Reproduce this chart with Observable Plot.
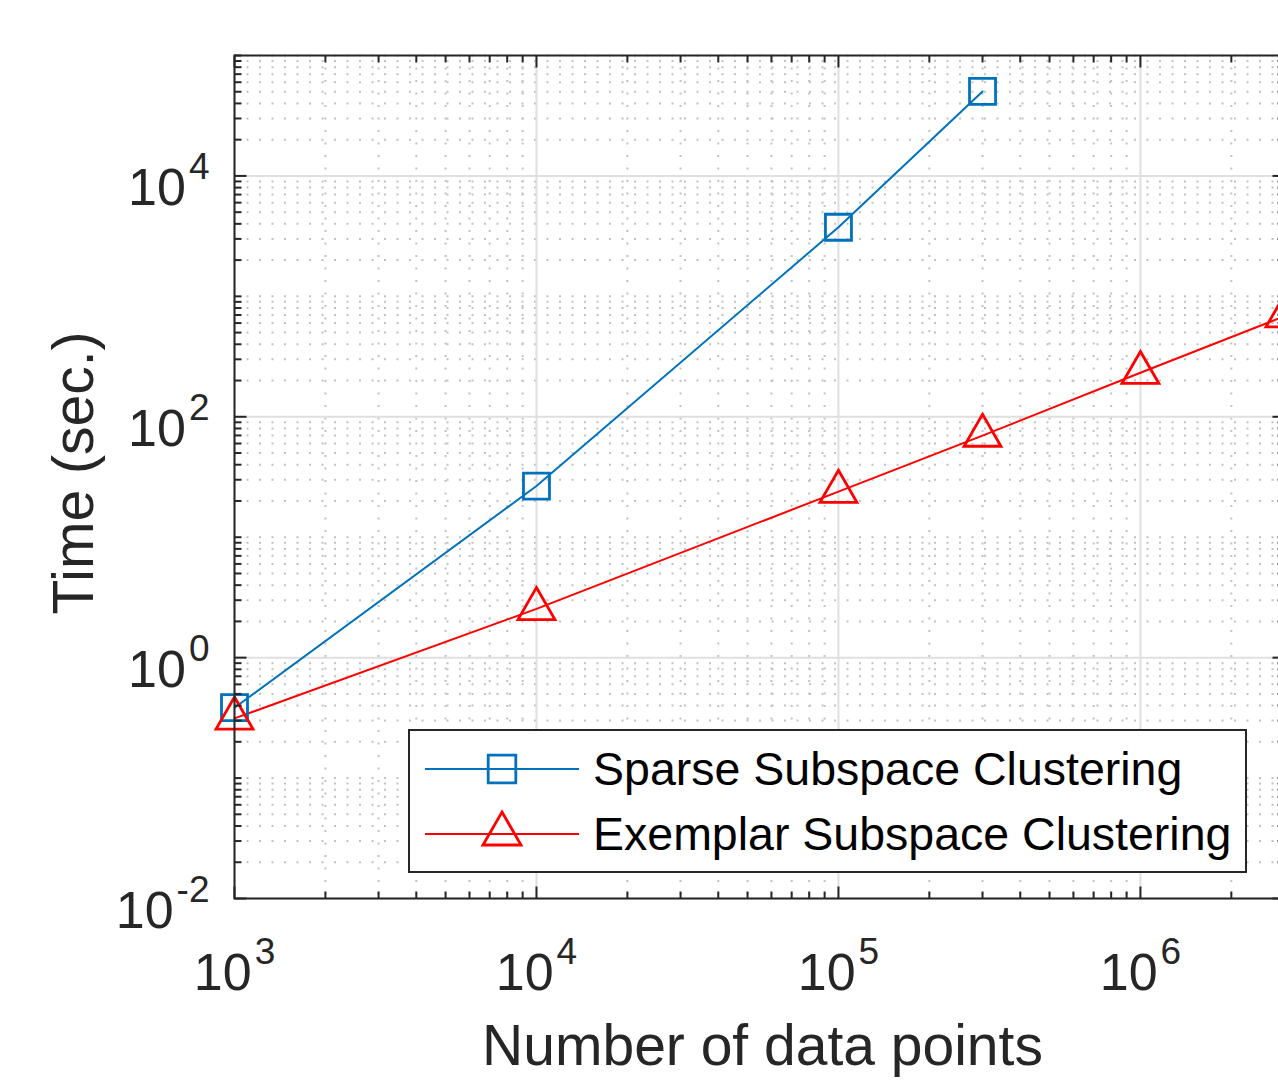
<!DOCTYPE html>
<html>
<head>
<meta charset="utf-8">
<script src="https://cdn.jsdelivr.net/npm/d3@7"></script>
<script src="https://cdn.jsdelivr.net/npm/@observablehq/plot@0.6"></script>
<style>
html, body { margin: 0; padding: 0; background: #fff; overflow: hidden; }
#wrap { position: relative; width: 1278px; height: 1080px; overflow: hidden; background: #fff; }
#wrap > svg { position: absolute; left: 0; top: 0; max-width: none !important; }
</style>
</head>
<body>
<div id="wrap"></div>
<script>
// ---- data ----
const sscN = [1e3, 1e4, 1e5, 3e5];
const sscTime = [0.384, 26.6, 3750, 50300];
const escN = [1e3, 1e4, 1e5, 3e5, 1e6, 3e6];
const escTime = [0.313, 2.54, 23.9, 69.8, 232, 684];
const seriesNames = ["Sparse Subspace Clustering", "Exemplar Subspace Clustering"];
const seriesColors = ["#0072BD", "#FF0000"];
const xDomain = [1e3, 3e6];
const yDomain = [1e-2, 1e5];
const xTickValues = [1e3, 1e4, 1e5, 1e6];
const xTickLabels = ["10^3", "10^4", "10^5", "10^6"];
const yTickValues = [1e-2, 1e0, 1e2, 1e4];
const yTickLabels = ["10^-2", "10^0", "10^2", "10^4"];
const xLabel = "Number of data points";
const yLabel = "Time (sec.)";

// minor tick / grid positions (1..9 x 10^k inside the domain, excluding majors)
function logSteps(lo, hi) {
  const out = [];
  for (let e = Math.floor(Math.log10(lo)); e <= Math.ceil(Math.log10(hi)); e++)
    for (let k = 1; k <= 9; k++) {
      const v = k * Math.pow(10, e);
      if (v >= lo * 0.999 && v <= hi * 1.001) out.push(+v.toPrecision(3));
    }
  return out;
}
const isMajor = (v, majors) => majors.some(m => Math.abs(Math.log10(v) - Math.log10(m)) < 1e-6);
const xMinor = logSteps(...xDomain).filter(v => !isMajor(v, xTickValues));
const yMinor = logSteps(...yDomain).filter(v => !isMajor(v, yTickValues));

const ssc = sscN.map((n, i) => ({n, t: sscTime[i]}));
const esc = escN.map((n, i) => ({n, t: escTime[i]}));

// ---- symbols ----
const squareSym = { draw(ctx, size) { const k = Math.sqrt(size / Math.PI); ctx.rect(-k, -k, 2 * k, 2 * k); } };
const triangleSym = { draw(ctx, size) {
  const h = 2 * Math.sqrt(size / Math.PI), w = h / Math.sqrt(3);
  ctx.moveTo(0, -2 * h / 3); ctx.lineTo(w, h / 3); ctx.lineTo(-w, h / 3); ctx.closePath();
} };
const tick = (dx, dy) => ({ draw(ctx) { ctx.moveTo(0, 0); ctx.lineTo(dx, dy); } });
const AX = "#262626";
const MAJ = 12, MIN = 7;

const tickMarks = [
  Plot.dot(xTickValues, {x: d => d, frameAnchor: "bottom", symbol: tick(0, -MAJ), r: 1, stroke: AX, fill: "none", strokeWidth: 2}),
  Plot.dot(xMinor, {x: d => d, frameAnchor: "bottom", symbol: tick(0, -MIN), r: 1, stroke: AX, fill: "none", strokeWidth: 2}),
  Plot.dot(xTickValues, {x: d => d, frameAnchor: "top", symbol: tick(0, MAJ), r: 1, stroke: AX, fill: "none", strokeWidth: 2}),
  Plot.dot(xMinor, {x: d => d, frameAnchor: "top", symbol: tick(0, MIN), r: 1, stroke: AX, fill: "none", strokeWidth: 2}),
  Plot.dot(yTickValues, {y: d => d, frameAnchor: "left", symbol: tick(MAJ, 0), r: 1, stroke: AX, fill: "none", strokeWidth: 2}),
  Plot.dot(yMinor, {y: d => d, frameAnchor: "left", symbol: tick(MIN, 0), r: 1, stroke: AX, fill: "none", strokeWidth: 2}),
  Plot.dot(yTickValues, {y: d => d, frameAnchor: "right", symbol: tick(-MAJ, 0), r: 1, stroke: AX, fill: "none", strokeWidth: 2}),
  Plot.dot(yMinor, {y: d => d, frameAnchor: "right", symbol: tick(-MIN, 0), r: 1, stroke: AX, fill: "none", strokeWidth: 2})
];

const chart = Plot.plot({
  width: 1300,
  height: 1080,
  marginLeft: 234,
  marginRight: 16,
  marginTop: 55,
  marginBottom: 182,
  style: {fontFamily: "'Liberation Sans', Arial, Helvetica, sans-serif", background: "white", color: AX, maxWidth: "none"},
  x: {type: "log", domain: xDomain, axis: null},
  y: {type: "log", domain: yDomain, axis: null},
  marks: [
    Plot.gridX(xMinor, {stroke: "#c2c2c2", strokeOpacity: 1, strokeWidth: 2, strokeDasharray: "2 10.5"}),
    Plot.gridY(yMinor, {stroke: "#c2c2c2", strokeOpacity: 1, strokeWidth: 2, strokeDasharray: "2 10.5"}),
    Plot.gridX(xTickValues, {stroke: "#dfdfdf", strokeOpacity: 1, strokeWidth: 2}),
    Plot.gridY(yTickValues, {stroke: "#dfdfdf", strokeOpacity: 1, strokeWidth: 2}),
    Plot.line(ssc, {x: "n", y: "t", stroke: seriesColors[0], strokeWidth: 2}),
    Plot.line(esc, {x: "n", y: "t", stroke: seriesColors[1], strokeWidth: 2}),
    Plot.dot(ssc, {x: "n", y: "t", symbol: squareSym, r: 13, stroke: seriesColors[0], fill: "none", strokeWidth: 2.8}),
    Plot.dot(esc, {x: "n", y: "t", symbol: triangleSym, r: 16, stroke: seriesColors[1], fill: "none", strokeWidth: 2.8}),
    Plot.frame({stroke: AX, strokeWidth: 2}),
    ...tickMarks,
    Plot.text(xTickValues, {x: d => d, text: (d, i) => xTickLabels[i], frameAnchor: "bottom", lineAnchor: "bottom", dy: 91, fontSize: 52, fill: AX, textAnchor: "middle"}),
    Plot.text(yTickValues, {y: d => d, text: (d, i) => yTickLabels[i], frameAnchor: "left", lineAnchor: "bottom", dx: -25, dy: 29, fontSize: 52, fill: AX, textAnchor: "end"}),
    Plot.text([xLabel], {frameAnchor: "bottom", lineAnchor: "bottom", textAnchor: "middle", dx: 3, dy: 166, fontSize: 57, fill: AX}),
    Plot.text([yLabel], {frameAnchor: "left", lineAnchor: "bottom", textAnchor: "middle", rotate: -90, dx: -142, dy: -4, fontSize: 57, fill: AX})
  ]
});

// turn "10^k" labels into 10 with a superscript exponent
d3.select(chart).selectAll("text").each(function () {
  const m = /^10\^(-?\d+)$/.exec(this.textContent.trim());
  if (!m) return;
  const t = d3.select(this);
  t.selectAll("*").remove();
  t.text(null);
  t.append("tspan").text("10");
  t.append("tspan").attr("dx", 3).attr("dy", -26).attr("font-size", 37).text(m[1]);
});

const wrap = document.getElementById("wrap");
wrap.appendChild(chart);

// ---- legend (overlay) ----
const leg = d3.select(wrap).append("svg")
  .attr("width", 1278).attr("height", 1080)
  .style("pointer-events", "none")
  .attr("font-family", "'Liberation Sans', Arial, Helvetica, sans-serif");
leg.append("rect").attr("x", 409).attr("y", 730).attr("width", 837).attr("height", 142)
  .attr("fill", "white").attr("stroke", AX).attr("stroke-width", 2);
const rows = [769, 834];
const legSyms = [squareSym, triangleSym];
const legR = [13.8, 16.5];
seriesNames.forEach((name, i) => {
  const g = leg.append("g").attr("transform", `translate(0,${rows[i]})`);
  g.append("line").attr("x1", 425).attr("x2", 579).attr("y1", 0).attr("y2", 0)
    .attr("stroke", seriesColors[i]).attr("stroke-width", 2);
  const p = d3.path();
  legSyms[i].draw(p, legR[i] * legR[i] * Math.PI);
  g.append("path").attr("d", p.toString()).attr("transform", "translate(502,0)")
    .attr("fill", "none").attr("stroke", seriesColors[i]).attr("stroke-width", 2.8);
  g.append("text").attr("x", 593).attr("y", 16).attr("font-size", 46.5).attr("fill", "#000").text(name);
});
</script>
</body>
</html>
